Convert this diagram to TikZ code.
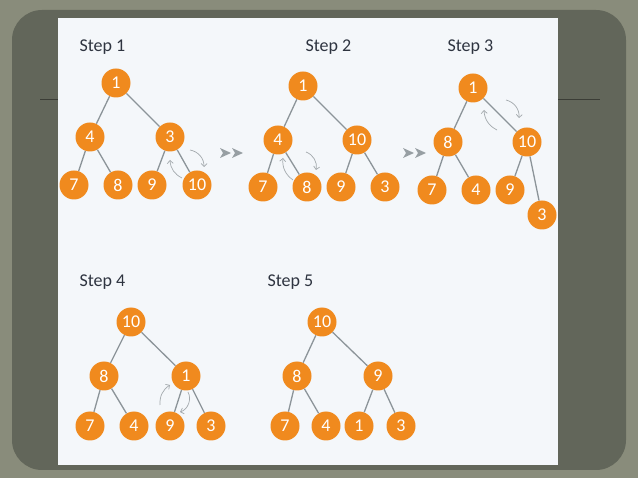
\documentclass[tikz,border=0pt]{standalone}
\usepackage{fontspec}
\setmainfont{Carlito}
\usetikzlibrary{arrows.meta}
\definecolor{bgout}{HTML}{898C7B}
\definecolor{frame}{HTML}{62665A}
\definecolor{panel}{HTML}{F4F7FA}
\definecolor{org}{HTML}{F08A1E}
\definecolor{edge}{HTML}{8C9499}
\definecolor{txt}{HTML}{2E3440}
\tikzset{
 hn/.style={circle,fill=org,minimum size=29pt,inner sep=0pt,text=white,font=\fontsize{18}{18}\selectfont},
 lbl/.style={anchor=west,text=txt,font=\fontsize{18}{18}\selectfont},
 ed/.style={draw=edge,line width=1.3pt},
 sw/.style={draw=edge!80,line width=0.7pt,-{Straight Barb[length=3pt]}},
 dbl/.style={fill=edge!90}
}
\begin{document}
\begin{tikzpicture}[x=1pt,y=-1pt]
\useasboundingbox (0,0) rectangle (638,478);
\fill[bgout] (0,0) rectangle (638,478);
\fill[frame,rounded corners=30pt] (12,10) rectangle (626,470);
\draw[frame!60!black,line width=1pt] (40,100) -- (600,100);
\fill[panel] (58,18) rectangle (558,465);
% Step 1
\node[lbl] (s1) at (76,47) {Step 1};
\node[hn] (a1) at (116,83) {1};
\node[hn] (a4) at (90,137) {4};
\node[hn] (a3) at (170,137) {3};
\node[hn] (a7) at (74,185) {7};
\node[hn] (a8) at (118,185) {8};
\node[hn] (a9) at (152,185) {9};
\node[hn] (a10) at (197,185) {10};
\draw[ed] (a1)--(a4) (a1)--(a3) (a4)--(a7) (a4)--(a8) (a3)--(a9) (a3)--(a10);
\coordinate (a1s) at (182,178); \coordinate (a1e) at (170,160);
\draw[sw] (a1s) to[bend left=30] (a1e);
\coordinate (a2s) at (190,150); \coordinate (a2e) at (204,167);
\draw[sw] (a2s) to[bend left=40] (a2e);
% arrows >>
\coordinate (d1) at (222,153); \coordinate (d2) at (405,153);
\foreach \c in {d1,d2}{
 \fill[dbl] ([xshift=-2pt,yshift=-5pt]\c) -- ([xshift=9pt]\c) -- ([xshift=-2pt,yshift=5pt]\c) -- ([xshift=1pt]\c) -- cycle;
 \fill[dbl] ([xshift=10pt,yshift=-5pt]\c) -- ([xshift=21pt]\c) -- ([xshift=10pt,yshift=5pt]\c) -- ([xshift=13pt]\c) -- cycle;
}
% Step 2
\node[lbl] (s2) at (302,47) {Step 2};
\node[hn] (b1) at (303,86) {1};
\node[hn] (b4) at (278,140) {4};
\node[hn] (b10) at (357,140) {10};
\node[hn] (b7) at (263,187) {7};
\node[hn] (b8) at (307,187) {8};
\node[hn] (b9) at (341,187) {9};
\node[hn] (b3) at (385,187) {3};
\draw[ed] (b1)--(b4) (b1)--(b10) (b4)--(b7) (b4)--(b8) (b10)--(b9) (b10)--(b3);
\coordinate (b1s) at (293,180); \coordinate (b1e) at (283,158);
\draw[sw] (b1s) to[bend left=30] (b1e);
\coordinate (b2s) at (306,152); \coordinate (b2e) at (316,170);
\draw[sw] (b2s) to[bend left=40] (b2e);
% Step 3
\node[lbl] (s3) at (444,47) {Step 3};
\node[hn] (c1) at (473,88) {1};
\node[hn] (c8) at (448,142) {8};
\node[hn] (c10) at (527,142) {10};
\node[hn] (c7) at (432,190) {7};
\node[hn] (c4) at (476,190) {4};
\node[hn] (c9) at (510,190) {9};
\node[hn] (c3) at (542,215) {3};
\draw[ed] (c1)--(c8) (c1)--(c10) (c8)--(c7) (c8)--(c4) (c10)--(c9) (c10)--(c3);
\coordinate (c1s) at (497,130); \coordinate (c1e) at (484,110);
\draw[sw] (c1s) to[bend left=30] (c1e);
\coordinate (c2s) at (506,100); \coordinate (c2e) at (519,118);
\draw[sw] (c2s) to[bend left=40] (c2e);
% Step 4
\node[lbl] (s4) at (76,282) {Step 4};
\node[hn] (e10) at (131,322) {10};
\node[hn] (e8) at (104,376) {8};
\node[hn] (e1) at (186,376) {1};
\node[hn] (e7) at (90,426) {7};
\node[hn] (e4) at (134,426) {4};
\node[hn] (e9) at (170,426) {9};
\node[hn] (e3) at (211,426) {3};
\draw[ed] (e10)--(e8) (e10)--(e1) (e8)--(e7) (e8)--(e4) (e1)--(e9) (e1)--(e3);
\coordinate (e1s) at (160,405); \coordinate (e1e) at (170,385);
\draw[sw] (e1s) to[bend left=30] (e1e);
\coordinate (e2s) at (188,392); \coordinate (e2e) at (180,412);
\draw[sw] (e2s) to[bend left=50] (e2e);
% Step 5
\node[lbl] (s5) at (264,282) {Step 5};
\node[hn] (f10) at (322,322) {10};
\node[hn] (f8) at (297,376) {8};
\node[hn] (f9) at (378,376) {9};
\node[hn] (f7) at (285,426) {7};
\node[hn] (f4) at (326,426) {4};
\node[hn] (f1) at (359,426) {1};
\node[hn] (f3) at (401,426) {3};
\draw[ed] (f10)--(f8) (f10)--(f9) (f8)--(f7) (f8)--(f4) (f9)--(f1) (f9)--(f3);
\end{tikzpicture}
\end{document}
